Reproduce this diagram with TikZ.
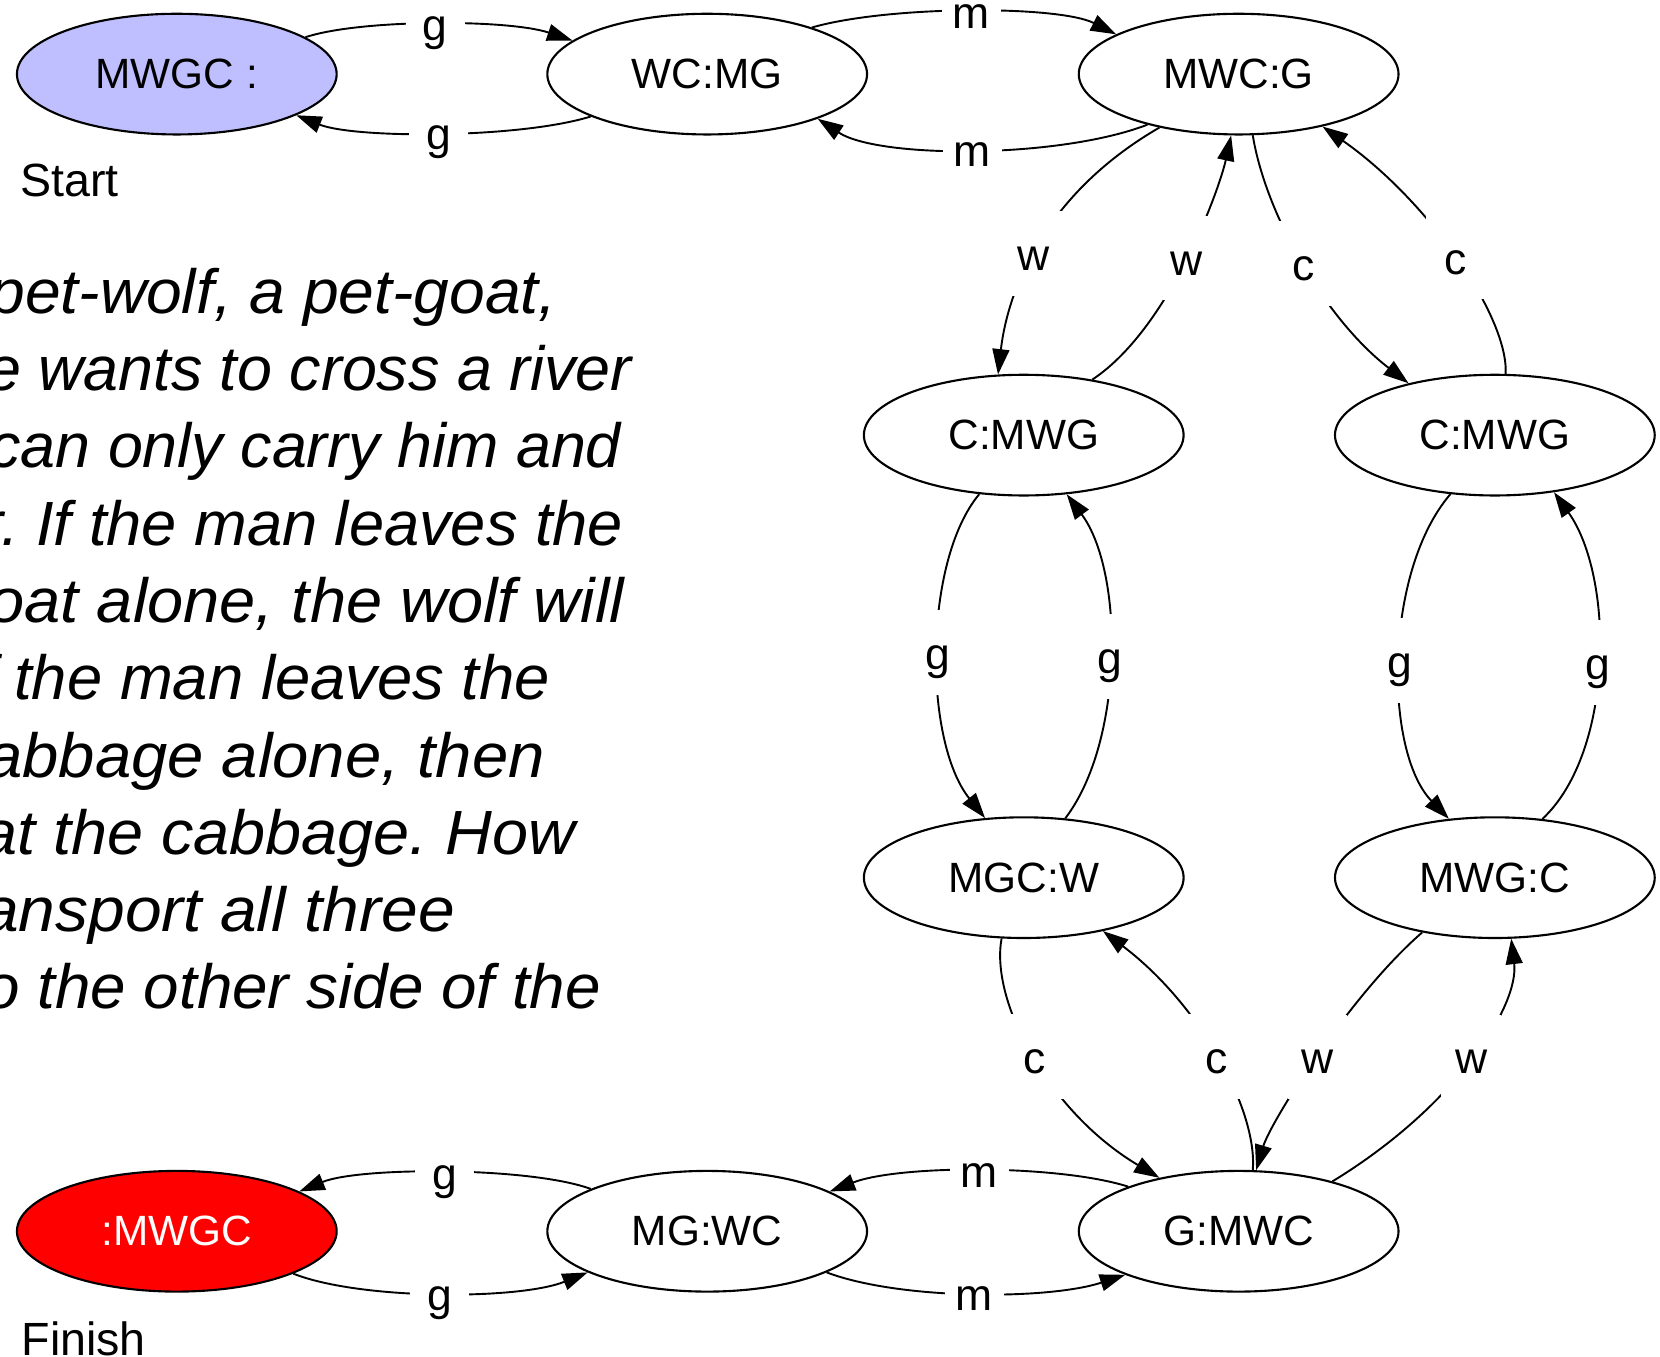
\documentclass[tikz,border=0pt]{standalone}
\usepackage{fontspec}
\setmainfont{Liberation Sans}
\usetikzlibrary{arrows.meta,shapes.geometric}
\definecolor{startblue}{RGB}{191,191,255}
\newcommand{\wline}[2]{\scalebox{#1}[1]{#2}}
\begin{document}
\frenchspacing
\begin{tikzpicture}[x=0.5pt,y=-0.5pt,
  stnode/.style={ellipse,draw,line width=1pt,minimum width=151pt,minimum height=57pt,inner sep=0pt,font=\fontsize{20}{24}\selectfont},
  lbl/.style={fill=white,inner sep=0pt,minimum width=28pt,minimum height=40pt,text height=20pt,text depth=4pt,font=\fontsize{21}{25}\selectfont},
  conn/.style={line width=0.9pt,-{Triangle[length=12pt,width=8pt]}},
  txtline/.style={inner sep=0pt,anchor=base east,font=\fontsize{29.5}{36}\selectfont\itshape},
  captxt/.style={inner sep=0pt,anchor=base west,font=\fontsize{22}{26}\selectfont}
  ]
\useasboundingbox (0,0) rectangle (1568,1281);
\clip (0,0) rectangle (1568,1281);

% states
\node[stnode,fill=startblue] (s0) at (167,70) {MWGC :};
\node[stnode] (s1) at (668,70) {WC:MG};
\node[stnode] (s2) at (1170,70) {MWC:G};
\node[stnode] (s3) at (967,411) {C:MWG};
\node[stnode] (s4) at (1412,411) {C:MWG};
\node[stnode] (s5) at (967,829) {MGC:W};
\node[stnode] (s6) at (1412,829) {MWG:C};
\node[stnode] (s7) at (1170,1163) {G:MWC};
\node[stnode] (s8) at (668,1163) {MG:WC};
\node[stnode,fill=red,text=white] (s9) at (167,1163) {:MWGC};

\node[captxt] (start) at (19,186) {Start};
\node[captxt] (finish) at (20,1280) {Finish};

% edges
\draw[conn] (s0.16) .. controls (340,18) and (480,18) .. (s1.166) node[lbl,pos=0.5] {g};
\draw[conn] (s1.200) .. controls (490,131) and (335,131) .. (s0.341) node[lbl,pos=0.5] {g};
\draw[conn] (s1.24) .. controls (840,5) and (1000,5) .. (s2.162) node[lbl,pos=0.5] {m};
\draw[conn] (s2.209) .. controls (1000,150) and (830,150) .. (s1.338) node[lbl,pos=0.5] {m};
\draw[conn] (s2.214) .. controls (975,190) and (950,290) .. (s3.113) node[lbl,pos=0.5] {w};
\draw[conn] (s3.39) .. controls (1105,310) and (1152,178) .. (s2.263) node[lbl,pos=0.5] {w};
\draw[conn] (s2.283) .. controls (1195,200) and (1250,300) .. (s4.149) node[lbl,pos=0.5] {c};
\draw[conn] (s4.80) .. controls (1425,300) and (1350,190) .. (s2.328) node[lbl,pos=0.5] {c};
\draw[conn] (s3.233) .. controls (872,530) and (872,700) .. (s5.123) node[lbl,pos=0.5] {g};
\draw[conn] (s5.55) .. controls (1062,700) and (1062,540) .. (s3.306) node[lbl,pos=0.5] {g};
\draw[conn] (s4.233) .. controls (1307,540) and (1307,710) .. (s6.128) node[lbl,pos=0.5] {g};
\draw[conn] (s6.51) .. controls (1525,710) and (1525,545) .. (s4.316) node[lbl,pos=0.5] {g};
\draw[conn] (s5.250) .. controls (935,945) and (990,1050) .. (s7.146) node[lbl,pos=0.5] {c};
\draw[conn] (s7.77) .. controls (1188,1050) and (1135,950) .. (s5.326) node[lbl,pos=0.5] {c};
\draw[conn] (s6.217) .. controls (1275,940) and (1200,1060) .. (s7.74) node[lbl,pos=0.5] {w};
\draw[conn] (s7.28) .. controls (1375,1045) and (1435,950) .. (s6.285) node[lbl,pos=0.5] {w};
\draw[conn] (s7.158) .. controls (1000,1100) and (850,1100) .. (s8.18) node[lbl,pos=0.5] {m};
\draw[conn] (s8.341) .. controls (850,1228) and (990,1228) .. (s7.201) node[lbl,pos=0.5] {m};
\draw[conn] (s8.160) .. controls (500,1102) and (340,1102) .. (s9.18) node[lbl,pos=0.5] {g};
\draw[conn] (s9.340) .. controls (340,1228) and (490,1228) .. (s8.199) node[lbl,pos=0.5] {g};

% problem text (cut at the left edge)
\node[txtline] (t1) at (526,296) {\wline{1.027}{pet-wolf, a pet-goat,}};
\node[txtline] (t2) at (597,369) {\wline{1.005}{e wants to cross a river}};
\node[txtline] (t3) at (587,442) {\wline{1.005}{can only carry him and}};
\node[txtline] (t4) at (589,515) {\wline{1.012}{r. If the man leaves the}};
\node[txtline] (t5) at (590,588) {\wline{1.04}{oat alone, the wolf will}};
\node[txtline] (t6) at (520,661) {\wline{1.015}{f the man leaves the}};
\node[txtline] (t7) at (515,734) {\wline{1.044}{abbage alone, then}};
\node[txtline] (t8) at (544,807) {\wline{1.037}{at the cabbage. How}};
\node[txtline] (t9) at (430,880) {\wline{1.055}{ansport all three}};
\node[txtline] (t10) at (568,953) {\wline{1.02}{o the other side of the}};
\end{tikzpicture}
\end{document}
